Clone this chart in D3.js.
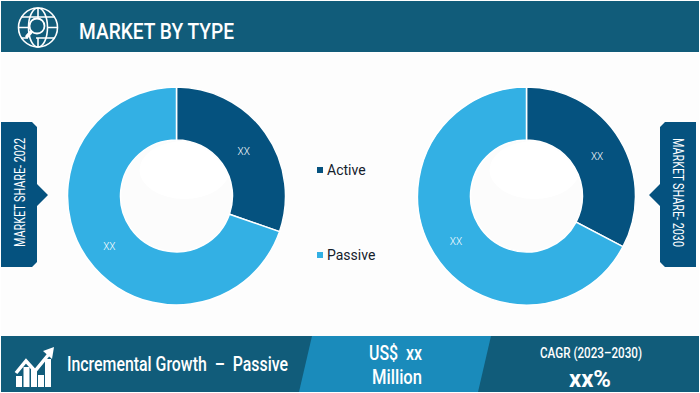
<!DOCTYPE html>
<html>
<head>
<meta charset="utf-8">
<script src="https://cdn.jsdelivr.net/npm/d3@7"></script>
<style>
html, body { margin: 0; padding: 0; background: #ffffff; }
svg { display: block; }
text { font-family: Roboto, "Liberation Sans", sans-serif; white-space: pre; }
</style>
</head>
<body>
<div id="chart"></div>
<script>
var categories = ["Active", "Passive"];
var share2022 = [30.3, 69.7];
var share2030 = [32.7, 67.3];
var sliceLabels = ["XX", "XX"];
var title = "MARKET BY TYPE";
var tagLeft = "MARKET SHARE- 2022";
var tagRight = "MARKET SHARE- 2030";

var width = 700, height = 393;
var darkTeal = "#115c7a", midBlue = "#1a8bbb", navy = "#05527f", sky = "#33b0e4";
var holeRadius = 56, donutRadius = 109;

var svg = d3.select("#chart").append("svg")
    .attr("width", width)
    .attr("height", height);

svg.append("rect").attr("width", width).attr("height", height).attr("fill", "#ffffff");
svg.append("rect").attr("x", 1).attr("y", 53).attr("width", 698).attr("height", 283).attr("fill", "#fdfdfd");

// squeezed text, the original uses a condensed face
function label(g, str, x, y, size, len, anchor, weight) {
    return g.append("text")
        .attr("x", x).attr("y", y)
        .attr("font-size", size)
        .attr("font-weight", weight || 400)
        .attr("text-anchor", anchor || "start")
        .attr("textLength", len)
        .attr("lengthAdjust", "spacingAndGlyphs")
        .attr("fill", "#ffffff")
        .text(str);
}

// header
svg.append("rect").attr("x", 1).attr("y", 1).attr("width", 698).attr("height", 51).attr("fill", darkTeal);
label(svg, title, 79, 39, 22, 155, "start", 500);

var globe = svg.append("g")
    .attr("fill", "none")
    .attr("stroke", "#ffffff")
    .attr("stroke-width", 1.6);
globe.append("circle").attr("cx", 38).attr("cy", 27.5).attr("r", 19.5);
globe.append("ellipse").attr("cx", 38).attr("cy", 27.5).attr("rx", 9.5).attr("ry", 19.5);
globe.append("path").attr("d", "M38 8V18M38 38V47M21 17H55M18.5 27.5H28M47 27.5H57.5M21 38H28M36 38H55");
globe.append("circle").attr("cx", 37).attr("cy", 26).attr("r", 7.5).attr("fill", darkTeal).attr("stroke-width", 1.8);
globe.append("path").attr("d", "M31 32L27 36.5").attr("stroke-width", 3.5).attr("stroke-linecap", "round");

// side tags
var tagPoints = [[1, 122], [32, 122], [37, 127], [37, 184], [48, 195], [37, 206], [37, 262], [32, 267], [1, 267]];
svg.append("polygon")
    .attr("points", tagPoints.join(" "))
    .attr("fill", navy);
svg.append("polygon")
    .attr("points", tagPoints.map(function(p) { return [697 - p[0], p[1]]; }).join(" "))
    .attr("fill", navy);
label(svg.append("g").attr("transform", "translate(25,192.5) rotate(-90)"), tagLeft, 0, 0, 14, 109, "middle");
label(svg.append("g").attr("transform", "translate(673,192.5) rotate(90)"), tagRight, 0, 0, 14, 109, "middle");

// donuts
var color = d3.scaleOrdinal().domain(categories).range([navy, sky]);
var pie = d3.pie().sort(null).value(function(d) { return d.value; });
var arc = d3.arc().innerRadius(holeRadius).outerRadius(donutRadius);

var defs = svg.append("defs");
defs.append("clipPath").attr("id", "holeClip")
    .append("circle").attr("r", holeRadius - 1);

function drawDonut(values, cx, cy) {
    var rows = categories.map(function(c, i) { return { name: c, value: values[i], label: sliceLabels[i] }; });
    var g = svg.append("g").attr("transform", "translate(" + cx + "," + cy + ")");

    g.selectAll("path.slice")
        .data(pie(rows))
        .enter()
        .append("path")
        .attr("class", "slice")
        .attr("d", arc)
        .attr("fill", function(d) { return color(d.data.name); })
        .attr("stroke", "#ffffff")
        .attr("stroke-width", 1.5);

    g.selectAll("text")
        .data(pie(rows))
        .enter()
        .append("text")
        .attr("transform", function(d) { return "translate(" + arc.centroid(d) + ")"; })
        .attr("text-anchor", "middle")
        .attr("dy", 6.5)
        .attr("font-size", 10)
        .attr("font-weight", 300)
        .attr("fill", "#ffffff")
        .text(function(d) { return d.data.label; });

    // faint gloss in the hole
    g.append("circle").attr("r", holeRadius - 1).attr("fill", "#fcfcfc");
    g.append("ellipse")
        .attr("clip-path", "url(#holeClip)")
        .attr("cx", 8).attr("cy", -26)
        .attr("rx", 45).attr("ry", 29)
        .attr("fill", "#ffffff");
}
drawDonut(share2022, 176.5, 196);
drawDonut(share2030, 526.5, 196);

// legend
var legendY = d3.scalePoint().domain(categories).range([170, 255]);
var legend = svg.selectAll("g.legend")
    .data(categories)
    .enter()
    .append("g")
    .attr("class", "legend")
    .attr("transform", function(d) { return "translate(317," + legendY(d) + ")"; });
legend.append("rect")
    .attr("y", -3).attr("width", 6).attr("height", 6)
    .attr("fill", function(d) { return color(d); });
legend.append("text")
    .attr("x", 10).attr("y", 5)
    .attr("font-size", 14)
    .attr("fill", "#14202b")
    .text(function(d) { return d; });

// footer
svg.append("rect").attr("x", 1).attr("y", 336).attr("width", 698).attr("height", 56).attr("fill", darkTeal);
svg.append("polygon").attr("points", "312,336 491,336 478,392 299,392").attr("fill", midBlue);

var growth = svg.append("g").attr("fill", "#ffffff");
[[16, 376], [23.5, 367], [31, 369], [38, 375], [45, 359]].forEach(function(b) {
    growth.append("rect").attr("x", b[0]).attr("y", b[1]).attr("width", 6).attr("height", 387 - b[1]);
});
svg.append("path").attr("d", "M16 373L26 361L35 371L49 354").attr("fill", "none").attr("stroke", "#ffffff").attr("stroke-width", 3.5);
growth.append("polygon").attr("points", "54,347 43,351 52,359");

label(svg, "Incremental Growth  \u2013  Passive", 67, 371, 19.5, 221, "start", 500);
label(svg, "US$  xx", 395.5, 360, 21, 53, "middle", 500);
label(svg, "Million", 397, 384, 20, 50, "middle", 500);
label(svg, "CAGR (2023\u20132030)", 591, 358, 14, 102, "middle", 500);
label(svg, "xx%", 590, 387, 24, 42, "middle", 700);
</script>
</body>
</html>
